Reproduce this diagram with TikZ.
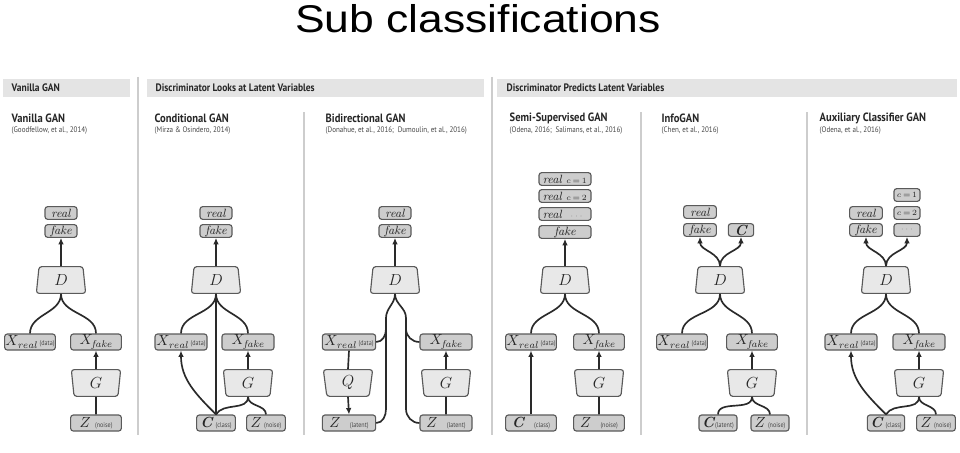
\documentclass[tikz,border=0pt]{standalone}
\usepackage{fontspec}
\usepackage{graphicx}
\usetikzlibrary{shapes.geometric,arrows.meta}
\newfontfamily\titlefont{Liberation Sans}
\newfontfamily\lbl{PT Sans}[FakeStretch=0.88]
\definecolor{barfill}{HTML}{E4E4E4}
\definecolor{sepcol}{HTML}{CDCDCD}
\definecolor{boxfill}{HTML}{CDCDCD}
\definecolor{boxdraw}{HTML}{5A5A5A}
\definecolor{trapfill}{HTML}{E8E8E8}
\definecolor{wirecol}{HTML}{2A2A2A}
\definecolor{txt}{HTML}{262626}
\newcommand\nt[1]{{\lbl\fontsize{5.2}{5}\selectfont\color{txt!85}#1}}
\newcommand\bC{{\fontsize{11}{10}\selectfont\bfseries\itshape C\kern0.6pt}}
\newcommand\cval[1]{\makebox[16pt][c]{\upshape\fontsize{6.5}{6.5}\selectfont#1}}
\tikzset{
  gbox/.style={draw=boxdraw, fill=boxfill, rounded corners=2pt, line width=0.85pt,
    inner sep=0pt, minimum height=9.5pt, text=txt,
    font=\fontsize{9}{9}\selectfont\itshape},
  xbox/.style={gbox, minimum height=12pt, font=\fontsize{10.5}{10}\selectfont},
  trapD/.style={trapezium, trapezium angle=76, trapezium stretches body,
    draw=boxdraw, fill=trapfill, line width=0.85pt, rounded corners=2pt,
    minimum width=37pt, minimum height=20pt, inner sep=0pt,
    font=\fontsize{12}{12}\selectfont, text=txt},
  trapG/.style={trapD, shape border rotate=180},
  wire/.style={draw=wirecol, line width=1.25pt},
  arr/.style={wire, -{Latex[length=4.8pt,width=4.2pt]}},
  barlbl/.style={anchor=west, text=txt, font=\lbl\bfseries\fontsize{8.1}{8}\selectfont},
  coltitle/.style={anchor=west, text=txt, font=\lbl\bfseries\fontsize{9}{9}\selectfont},
  cite/.style={anchor=west, text=txt!85, font=\lbl\fontsize{6}{7}\selectfont},
  sepline/.style={draw=sepcol, line width=1.1pt}
}
\begin{document}
\begin{tikzpicture}[x=0.75pt,y=0.75pt]
\fill[white] (0,0) rectangle (960,-453);
\path[use as bounding box] (0,0) rectangle (960,-453);

% title
\node[anchor=base, font=\titlefont\fontsize{29}{30}\selectfont] (title) at (478,-33) {\scalebox{1.15}[1]{Sub classifications}};

% section bars
\fill[barfill] (3,-79) rectangle (130,-97);
\fill[barfill] (147,-79) rectangle (484,-97);
\fill[barfill] (497,-79) rectangle (957,-97);
\node[barlbl] (b1) at (7,-88) {Vanilla GAN};
\node[barlbl] (b2) at (151,-88) {Discriminator Looks at Latent Variables};
\node[barlbl] (b3) at (502,-88) {Discriminator Predicts Latent Variables};

% separators
\draw[sepline] (138,-77) -- (138,-435);
\draw[sepline] (492,-77) -- (492,-435);
\draw[sepline] (304,-112) -- (304,-435);
\draw[sepline] (641,-112) -- (641,-435);
\draw[sepline] (807,-112) -- (807,-435);

% column titles
\node[coltitle] (t1) at (7,-118) {Vanilla GAN};
\node[cite] (c1) at (7,-131) {(Goodfellow, et al., 2014)};
\node[coltitle] (t2) at (150,-118) {Conditional GAN};
\node[cite] (c2) at (150,-131) {(Mirza \& Osindero, 2014)};
\node[coltitle] (t3) at (321,-118) {Bidirectional GAN};
\node[cite] (c3) at (321,-131) {(Donahue, et al., 2016;\ \ Dumoulin, et al., 2016)};
\node[coltitle] (t4) at (505,-118) {Semi-Supervised GAN};
\node[cite] (c4) at (505,-131) {(Odena, 2016;\ \ Salimans, et al., 2016)};
\node[coltitle] (t5) at (657,-118) {InfoGAN};
\node[cite] (c5) at (657,-131) {(Chen, et al., 2016)};
\node[coltitle] (t6) at (815,-118) {Auxiliary Classifier GAN};
\node[cite] (c6) at (815,-131) {(Odena, et al., 2016)};

% ---------- Vanilla GAN
\node[gbox, minimum width=24pt] (vreal) at (61,-213) {real};
\node[gbox, minimum width=24pt] (vfake) at (61,-231) {fake};
\node[trapD] (vD) at (61,-280) {$D$};
\node[xbox, minimum width=38pt] (vXr) at (30,-342) {$X_{\mathit{real}}$\,\nt{(data)}};
\node[xbox, minimum width=38pt] (vXf) at (96,-342) {$X_{\mathit{fake}}$};
\node[trapG] (vG) at (96,-383) {$G$};
\node[xbox, minimum width=38pt] (vZ) at (96,-423) {$Z$\ \nt{(noise)}};
\draw[arr] (vD.north) -- (vfake.south);
\draw[wire] (vD.south) to[out=-90,in=90] (vXr.north);
\draw[wire] (vD.south) to[out=-90,in=90] (vXf.north);
\draw[arr] (vG.north) -- (vXf.south);
\draw[wire] (vZ.north) -- (vG.south);

% ---------- Conditional GAN
\node[gbox, minimum width=24pt] (creal) at (216,-213) {real};
\node[gbox, minimum width=24pt] (cfake) at (216,-231) {fake};
\node[trapD] (cD) at (216,-280) {$D$};
\node[xbox, minimum width=39pt] (cXr) at (181,-342) {$X_{\mathit{real}}$\,\nt{(data)}};
\node[xbox, minimum width=39pt] (cXf) at (248,-342) {$X_{\mathit{fake}}$};
\node[trapG] (cG) at (248,-383) {$G$};
\node[xbox, minimum width=29pt] (cC) at (216,-423) {\bC\,\nt{(class)}};
\node[xbox, minimum width=29pt] (cZ) at (266,-423) {$Z$\,\nt{(noise)}};
\draw[arr] (cD.north) -- (cfake.south);
\draw[wire] (cD.south) to[out=-90,in=90] (cXr.north);
\draw[wire] (cD.south) to[out=-90,in=90] (cXf.north);
\draw[wire] (cD.south) -- (cC.north);
\draw[arr] (cC.north) to[out=135,in=-90] (cXr.south);
\draw[wire] (cC.north) to[out=60,in=-90] (cG.south);
\draw[wire] (cZ.north) to[out=90,in=-90] (cG.south);
\draw[arr] (cG.north) -- (cXf.south);

% ---------- Bidirectional GAN
\node[gbox, minimum width=24pt] (breal) at (395,-213) {real};
\node[gbox, minimum width=24pt] (bfake) at (395,-231) {fake};
\node[trapD] (bD) at (395,-280) {$D$};
\node[xbox, minimum width=40pt] (bXr) at (349,-342) {$X_{\mathit{real}}$\,\nt{(data)}};
\node[trapG] (bQ) at (348,-383) {$Q$};
\node[xbox, minimum width=40pt] (bZl) at (349,-423) {$Z$\ \ \nt{(latent)}};
\node[xbox, minimum width=39pt] (bXf) at (446,-342) {$X_{\mathit{fake}}$};
\node[trapG] (bG) at (446,-383) {$G$};
\node[xbox, minimum width=39pt] (bZr) at (446,-423) {$Z$\ \ \nt{(latent)}};
\draw[arr] (bD.north) -- (bfake.south);
\draw[wire] (bXr.south) -- (bQ.north);
\draw[arr] (bQ.south) -- (bZl.north);
\draw[arr] (bG.north) -- (bXf.south);
\draw[wire] (bZr.north) -- (bG.south);
\draw[wire] (bZl.east) to[out=0,in=-90] (386,-409) -- (386,-318) to[out=90,in=-90] (bD.south);
\draw[wire] (bXr.east) to[out=0,in=-90] (386,-329);
\draw[wire] (bZr.west) to[out=180,in=-90] (406,-409) -- (406,-318) to[out=90,in=-90] (bD.south);
\draw[wire] (bXf.west) to[out=180,in=-90] (406,-329);

% ---------- Semi-Supervised GAN
\node[gbox, minimum width=39pt] (sr1) at (565,-179) {real\hspace{3pt}\cval{$c\,{=}\,1$}};
\node[gbox, minimum width=39pt] (sr2) at (565,-196) {real\hspace{3pt}\cval{$c\,{=}\,2$}};
\node[gbox, minimum width=39pt] (sr3) at (565,-214) {real\hspace{3pt}\cval{\color{gray}$\cdots$}};
\node[gbox, minimum width=39pt] (sfake) at (565,-232) {fake};
\node[trapD] (sD) at (565,-280) {$D$};
\node[xbox, minimum width=38pt] (sXr) at (531,-342) {$X_{\mathit{real}}$\,\nt{(data)}};
\node[xbox, minimum width=38pt] (sXf) at (599,-342) {$X_{\mathit{fake}}$};
\node[trapG] (sG) at (599,-383) {$G$};
\node[xbox, minimum width=38pt] (sC) at (531,-423) {\bC\ \ \nt{(class)}};
\node[xbox, minimum width=38pt] (sZ) at (599,-423) {$Z$\ \ \nt{(noise)}};
\draw[arr] (sD.north) -- (sfake.south);
\draw[wire] (sD.south) to[out=-90,in=90] (sXr.north);
\draw[wire] (sD.south) to[out=-90,in=90] (sXf.north);
\draw[arr] (sC.north) -- (sXr.south);
\draw[arr] (sG.north) -- (sXf.south);
\draw[wire] (sZ.north) -- (sG.south);

% ---------- InfoGAN
\node[gbox, minimum width=24.5pt] (ireal) at (700,-212) {real};
\node[gbox, minimum width=24.5pt] (ifake) at (700,-230) {fake};
\node[gbox, minimum width=19pt] (iC) at (741,-230) {\bC};
\node[trapD] (iD) at (720,-280) {$D$};
\node[xbox, minimum width=38pt] (iXr) at (682,-342) {$X_{\mathit{real}}$\,\nt{(data)}};
\node[xbox, minimum width=38pt] (iXf) at (752,-342) {$X_{\mathit{fake}}$};
\node[trapG] (iG) at (752,-383) {$G$};
\node[xbox, minimum width=28.5pt] (iCl) at (718,-423) {\bC\nt{(latent)}};
\node[xbox, minimum width=28.5pt] (iZ) at (770,-423) {$Z$\,\nt{(noise)}};
\draw[arr] (iD.north) to[out=90,in=-90] (ifake.south);
\draw[arr] (iD.north) to[out=90,in=-90] (iC.south);
\draw[wire] (iD.south) to[out=-90,in=90] (iXr.north);
\draw[wire] (iD.south) to[out=-90,in=90] (iXf.north);
\draw[arr] (iG.north) -- (iXf.south);
\draw[wire] (iCl.north) to[out=90,in=-90] (iG.south);
\draw[wire] (iZ.north) to[out=90,in=-90] (iG.south);

% ---------- Auxiliary Classifier GAN
\node[gbox, minimum width=19.5pt] (ac1) at (907,-195) {\cval{$c\,{=}\,1$}};
\node[gbox, minimum width=19.5pt] (ac2) at (907,-213) {\cval{$c\,{=}\,2$}};
\node[gbox, minimum width=19.5pt] (ac3) at (907,-230) {\cval{\color{gray}$\cdots$}};
\node[gbox, minimum width=24.5pt] (areal) at (866,-213) {real};
\node[gbox, minimum width=24.5pt] (afake) at (866,-230) {fake};
\node[trapD] (aD) at (886,-280) {$D$};
\node[xbox, minimum width=39pt] (aXr) at (851,-342) {$X_{\mathit{real}}$\,\nt{(data)}};
\node[xbox, minimum width=39pt] (aXf) at (919,-342) {$X_{\mathit{fake}}$};
\node[trapG] (aG) at (919,-383) {$G$};
\node[xbox, minimum width=28pt] (aC) at (886,-423) {\bC\,\nt{(class)}};
\node[xbox, minimum width=29pt] (aZ) at (936,-423) {$Z$\,\nt{(noise)}};
\draw[arr] (aD.north) to[out=90,in=-90] (afake.south);
\draw[arr] (aD.north) to[out=90,in=-90] (ac3.south);
\draw[wire] (aD.south) to[out=-90,in=90] (aXr.north);
\draw[wire] (aD.south) to[out=-90,in=90] (aXf.north);
\draw[arr] (aC.north) to[out=135,in=-90] (aXr.south);
\draw[wire] (aC.north) to[out=60,in=-90] (aG.south);
\draw[wire] (aZ.north) to[out=90,in=-90] (aG.south);
\draw[arr] (aG.north) -- (aXf.south);
\end{tikzpicture}
\end{document}
